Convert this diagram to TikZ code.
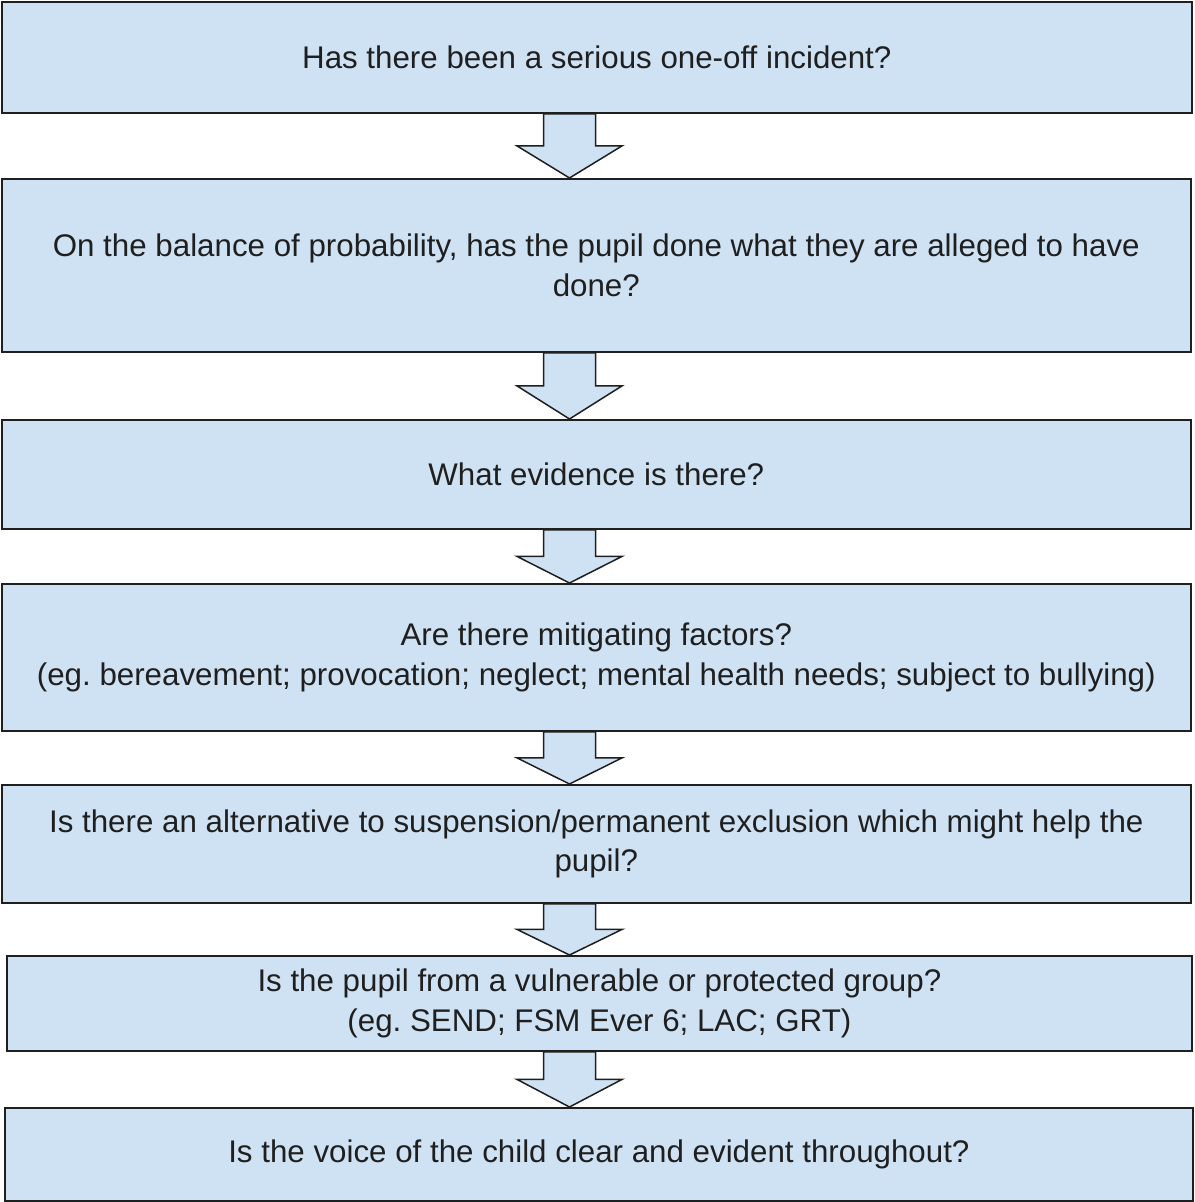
\documentclass[tikz,border=0pt]{standalone}
\usepackage{fontspec}
\setmainfont{Liberation Sans}
\usepackage{tikz}
\usetikzlibrary{calc}
\definecolor{boxblue}{HTML}{CFE2F3}
\definecolor{boxline}{HTML}{1F1F1F}
\frenchspacing
\tikzset{
  block/.style={rectangle, draw=boxline, fill=boxblue, align=center,
    inner sep=0pt, line width=1.8pt, text=boxline,
    font=\fontsize{31.3}{39.5}\selectfont, anchor=north west},
  downarrow/.style={draw=boxline, fill=boxblue, line width=1.5pt, line join=miter}
}

\begin{document}
\begin{tikzpicture}[x=1pt, y=-1pt]
  \useasboundingbox (0,0) rectangle (1194,1202);

  % Blocks
  \node[block, minimum width=1190, minimum height=111] (incident) at (0.9,1) {Has there been a serious one-off incident?};
  \node[block, minimum width=1189, minimum height=173] (balance) at (0.9,178) {On the balance of probability, has the pupil done what they are alleged to have\\done?};
  \node[block, minimum width=1189, minimum height=109] (evidence) at (0.9,419) {What evidence is there?};
  \node[block, minimum width=1189, minimum height=147] (mitigate) at (0.9,583) {Are there mitigating factors?\\(eg. bereavement; provocation; neglect; mental health needs; subject to bullying)};
  \node[block, minimum width=1189, minimum height=118] (alternative) at (0.9,784) {Is there an alternative to suspension/permanent exclusion which might help the\\pupil?};
  \node[block, minimum width=1185, minimum height=95] (vulnerable) at (6,955) {Is the pupil from a vulnerable or protected group?\\(eg. SEND; FSM Ever 6; LAC; GRT)};
  \node[block, minimum width=1188, minimum height=93] (voice) at (4,1107) {Is the voice of the child clear and evident throughout?};

  % Connections
  \coordinate (axis) at (569.5,0);
  \foreach \a/\b in {incident/balance, balance/evidence, evidence/mitigate,
                     mitigate/alternative, alternative/vulnerable, vulnerable/voice}
    \draw[downarrow] let \p1=(\a.south -| axis), \p2=(\b.north -| axis),
        \n1={0.5*\y1+0.5*\y2} in
      (\x1-26pt,\y1) -- (\x1+26pt,\y1) -- (\x1+26pt,\n1) -- (\x1+52.5pt,\n1)
      -- (\x2,\y2) -- (\x1-52.5pt,\n1) -- (\x1-26pt,\n1) -- cycle;
\end{tikzpicture}
\end{document}
